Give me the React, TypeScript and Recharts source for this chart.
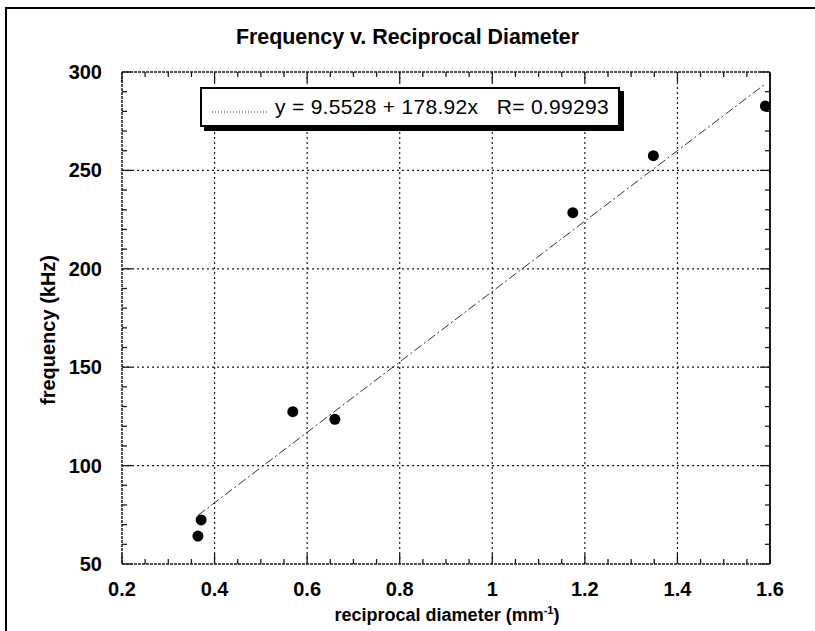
import React from 'react';
import { ScatterChart, Scatter, XAxis, YAxis, ReferenceLine } from 'recharts';

// ---- data ----
const reciprocalDiameter = [0.364, 0.371, 0.569, 0.66, 1.174, 1.348, 1.59];
const frequencyKHz = [64.2, 72.4, 127.4, 123.5, 228.5, 257.5, 282.7];

const xMajorTicks = [0.2, 0.4, 0.6, 0.8, 1, 1.2, 1.4, 1.6];
const xMinorTicks = [0.25, 0.3, 0.35, 0.45, 0.5, 0.55, 0.65, 0.7, 0.75, 0.85, 0.9, 0.95, 1.05, 1.1, 1.15, 1.25, 1.3, 1.35, 1.45, 1.5, 1.55];
const yMajorTicks = [50, 100, 150, 200, 250, 300];
const yMinorTicks = [60, 70, 80, 90, 110, 120, 130, 140, 160, 170, 180, 190, 210, 220, 230, 240, 260, 270, 280, 290];

const fitStart = { x: 0.364, y: 74.7 };
const fitEnd = { x: 1.59, y: 294 };
const fitLabel = 'y = 9.5528 + 178.92x   R= 0.99293';

const titleText = 'Frequency v. Reciprocal Diameter';
const xTitle = 'reciprocal diameter (mm';
const xTitleSup = '-1';
const yTitle = 'frequency (kHz)';

const points = reciprocalDiameter.map((x, i) => ({ x, y: frequencyKHz[i] }));
const xAllTicks = [...xMajorTicks, ...xMinorTicks].sort((a, b) => a - b);
const yAllTicks = [...yMajorTicks, ...yMinorTicks].sort((a, b) => a - b);

const FONT = '"Liberation Sans", Arial, Helvetica, sans-serif';
const MAJOR = 10;
const MINOR = 5;
const INK = '#1a1a1a';
const TW = 1.3;

const isMajorX = (v: number) => xMajorTicks.some((t) => Math.abs(t - v) < 1e-9);
const isMajorY = (v: number) => yMajorTicks.some((t) => Math.abs(t - v) < 1e-9);

const fmtX = (v: number) => String(Math.round(v * 10) / 10);

const BottomTick = (props: any) => {
  const { x, y, payload } = props;
  const major = isMajorX(payload.value);
  return (
    <g>
      <line x1={x} y1={y} x2={x} y2={y - (major ? MAJOR : MINOR)} stroke={INK} strokeWidth={TW} />
      {major && (
        <text x={x} y={y + 25} textAnchor="middle" dominantBaseline="central" fontFamily={FONT} fontWeight="bold" fontSize={20} fill="#000">
          {fmtX(payload.value)}
        </text>
      )}
    </g>
  );
};

const TopTick = (props: any) => {
  const { x, y, payload } = props;
  const major = isMajorX(payload.value);
  return <line x1={x} y1={y} x2={x} y2={y + (major ? MAJOR : MINOR)} stroke={INK} strokeWidth={TW} />;
};

const LeftTick = (props: any) => {
  const { x, y, payload } = props;
  const major = isMajorY(payload.value);
  return (
    <g>
      <line x1={x} y1={y} x2={x + (major ? MAJOR : MINOR)} y2={y} stroke={INK} strokeWidth={TW} />
      {major && (
        <text x={x - 20} y={y} textAnchor="end" dominantBaseline="central" fontFamily={FONT} fontWeight="bold" fontSize={20} fill="#000">
          {payload.value}
        </text>
      )}
    </g>
  );
};

const RightTick = (props: any) => {
  const { x, y, payload } = props;
  const major = isMajorY(payload.value);
  return <line x1={x} y1={y} x2={x - (major ? MAJOR : MINOR)} y2={y} stroke={INK} strokeWidth={TW} />;
};

const Dot = (props: any) => {
  const { cx, cy } = props;
  return <circle cx={cx} cy={cy} r={5.5} fill="#000" />;
};

export default function App() {
  return (
    <div style={{ position: 'absolute', left: 0, top: 0, width: 815, height: 631, background: '#fff', overflow: 'hidden' }}>
      <div style={{ position: 'absolute', left: 5, top: 7, width: 820, height: 640, borderLeft: '2px solid #000', borderTop: '2px solid #000' }} />
      <ScatterChart width={815} height={631} margin={{ top: 71, right: 44, bottom: 0, left: 0 }}>
        <XAxis
          xAxisId="b"
          type="number"
          dataKey="x"
          orientation="bottom"
          domain={[0.2, 1.6]}
          allowDataOverflow
          ticks={xAllTicks}
          interval={0}
          height={67}
          tickSize={0}
          tickMargin={0}
          tickLine={false}
          axisLine={{ stroke: INK, strokeWidth: 1.5, strokeDasharray: '3 1' }}
          tick={<BottomTick />}
        />
        <XAxis
          xAxisId="t"
          type="number"
          dataKey="x"
          orientation="top"
          domain={[0.2, 1.6]}
          allowDataOverflow
          ticks={xAllTicks}
          interval={0}
          height={1}
          tickSize={0}
          tickMargin={0}
          tickLine={false}
          axisLine={{ stroke: INK, strokeWidth: 1.5, strokeDasharray: '3 1' }}
          tick={<TopTick />}
        />
        <YAxis
          yAxisId="l"
          type="number"
          dataKey="y"
          orientation="left"
          domain={[50, 300]}
          allowDataOverflow
          ticks={yAllTicks}
          interval={0}
          width={122}
          tickSize={0}
          tickMargin={0}
          tickLine={false}
          axisLine={{ stroke: INK, strokeWidth: 1.5, strokeDasharray: '3 1' }}
          tick={<LeftTick />}
        />
        <YAxis
          yAxisId="r"
          type="number"
          dataKey="y"
          orientation="right"
          domain={[50, 300]}
          allowDataOverflow
          ticks={yAllTicks}
          interval={0}
          width={1}
          tickSize={0}
          tickMargin={0}
          tickLine={false}
          axisLine={{ stroke: INK, strokeWidth: 2 }}
          tick={<RightTick />}
        />
        {xMajorTicks.slice(1, -1).map((v) => (
          <ReferenceLine key={'gx' + v} xAxisId="b" yAxisId="l" x={v} stroke={INK} strokeWidth={1.2} strokeDasharray="2 3" />
        ))}
        {yMajorTicks.slice(1, -1).map((v) => (
          <ReferenceLine key={'gy' + v} xAxisId="b" yAxisId="l" y={v} stroke={INK} strokeWidth={1.2} strokeDasharray="2 3" />
        ))}
        <ReferenceLine
          xAxisId="b"
          yAxisId="l"
          segment={[fitStart, fitEnd]}
          stroke="#333"
          strokeWidth={1}
          strokeDasharray="9 3 2 3"
        />
        <Scatter xAxisId="b" yAxisId="l" data={points} shape={<Dot />} isAnimationActive={false} />
      </ScatterChart>

      <div style={{ position: 'absolute', left: 0, width: 815, top: 22, textAlign: 'center', fontFamily: FONT, fontWeight: 'bold', fontSize: 21.4, lineHeight: '30px', color: '#000' }}>
        {titleText}
      </div>

      <div style={{ position: 'absolute', left: 200, top: 87, width: 416, height: 36, border: '2px solid #000', background: '#fff', boxShadow: '4px 4px 0 #000', fontFamily: FONT, fontSize: 21, letterSpacing: 0.3, color: '#000' }}>
        <svg width={56} height={6} style={{ position: 'absolute', left: 10, top: 20 }}>
          <line x1={0} y1={3} x2={56} y2={3} stroke="#333" strokeWidth={1} strokeDasharray="1 2" />
        </svg>
        <span style={{ position: 'absolute', left: 73, top: 5, whiteSpace: 'pre', lineHeight: '26px' }}>{fitLabel}</span>
      </div>

      <div style={{ position: 'absolute', left: 0, width: 894, top: 598, textAlign: 'center', fontFamily: FONT, fontWeight: 'bold', fontSize: 18, lineHeight: '24px', color: '#000' }}>
        {xTitle}
        <sup style={{ fontSize: 11 }}>{xTitleSup}</sup>)
      </div>

      <div style={{ position: 'absolute', left: 48, top: 330, width: 0, height: 0 }}>
        <div style={{ position: 'absolute', left: 0, top: 0, transform: 'translate(-50%, -50%) rotate(-90deg)', whiteSpace: 'nowrap', fontFamily: FONT, fontWeight: 'bold', fontSize: 20, color: '#000' }}>
          {yTitle}
        </div>
      </div>
    </div>
  );
}
